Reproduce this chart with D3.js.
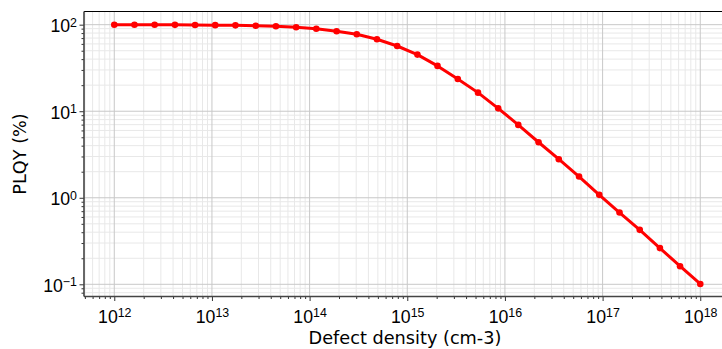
<!DOCTYPE html>
<html>
<head>
<meta charset="utf-8">
<script src="https://cdn.jsdelivr.net/npm/d3@7"></script>
<style>
  body { margin: 0; background: #fff; }
  svg { display: block; font-family: "DejaVu Sans", sans-serif; }
</style>
</head>
<body>
<svg id="chart" width="722" height="349"></svg>
<script>
// defect density (cm-3), 30 log-spaced points
const density = [1.00e12, 1.61e12, 2.59e12, 4.18e12, 6.72e12, 1.08e13, 1.74e13, 2.81e13, 4.52e13, 7.28e13,
                 1.17e14, 1.89e14, 3.04e14, 4.89e14, 7.88e14, 1.27e15, 2.04e15, 3.29e15, 5.30e15, 8.53e15,
                 1.37e16, 2.21e16, 3.56e16, 5.74e16, 9.24e16, 1.49e17, 2.40e17, 3.86e17, 6.21e17, 1.00e18];
// PLQY (%)
const plqy = [99.9, 99.8, 99.7, 99.5, 99.2, 98.8, 98.2, 97.3, 95.8, 93.3,
              89.9, 84.0, 77.5, 67.8, 56.7, 45.1, 33.4, 23.6, 16.4, 10.8,
              6.95, 4.38, 2.79, 1.76, 1.08, 0.675, 0.426, 0.262, 0.162, 0.101];
const xTickExp = [12, 13, 14, 15, 16, 17, 18];
const yTickExp = [-1, 0, 1, 2];

const margin = {top: 11.5, left: 84};
const width = 642, height = 285;
const fontSize = "17.7px", supSize = "12.4px";

const svg = d3.select("#chart");

const x = d3.scaleLog().domain([Math.pow(10, 11.69), Math.pow(10, 18.2635)]).range([0, width]);
const y = d3.scaleLog().domain([0.0723, 142]).range([height, 0]);

const g = svg.append("g").attr("transform", `translate(${margin.left},${margin.top})`);

// minor values
function minors(lo, hi) {
  const out = [];
  for (let e = lo; e <= hi; e++) for (let m = 2; m <= 9; m++) out.push(m * Math.pow(10, e));
  return out;
}
const xMinor = minors(11, 18).filter(v => v >= x.domain()[0] && v <= x.domain()[1]);
const yMinor = minors(-2, 2).filter(v => v >= y.domain()[0] && v <= y.domain()[1]);
const xMajor = xTickExp.map(e => Math.pow(10, e));
const yMajor = yTickExp.map(e => Math.pow(10, e));

// grid
g.append("g").selectAll("line").data(xMinor).join("line")
  .attr("x1", d => x(d)).attr("x2", d => x(d)).attr("y1", 0).attr("y2", height)
  .attr("stroke", "#e8e8e8").attr("stroke-width", 1);
g.append("g").selectAll("line").data(yMinor).join("line")
  .attr("y1", d => y(d)).attr("y2", d => y(d)).attr("x1", 0).attr("x2", width)
  .attr("stroke", "#e8e8e8").attr("stroke-width", 1);
g.append("g").selectAll("line").data(xMajor).join("line")
  .attr("x1", d => x(d)).attr("x2", d => x(d)).attr("y1", 0).attr("y2", height)
  .attr("stroke", "#c8c8c8").attr("stroke-width", 1);
g.append("g").selectAll("line").data(yMajor).join("line")
  .attr("y1", d => y(d)).attr("y2", d => y(d)).attr("x1", 0).attr("x2", width)
  .attr("stroke", "#c8c8c8").attr("stroke-width", 1);

// axes
function styleAxis(sel) {
  sel.select(".domain").remove();
  sel.selectAll(".tick line").attr("stroke", "#333").attr("stroke-width", 1);
}
const xMinorG = g.append("g").attr("transform", `translate(0,${height})`)
  .call(d3.axisBottom(x).tickValues(xMinor).tickSize(2.5).tickFormat(""));
styleAxis(xMinorG);
const xMajorG = g.append("g").attr("transform", `translate(0,${height})`)
  .call(d3.axisBottom(x).tickValues(xMajor).tickSize(4.5).tickFormat(""));
styleAxis(xMajorG);
const yMinorG = g.append("g").call(d3.axisLeft(y).tickValues(yMinor).tickSize(2.5).tickFormat(""));
styleAxis(yMinorG);
const yMajorG = g.append("g").call(d3.axisLeft(y).tickValues(yMajor).tickSize(4.5).tickFormat(""));
styleAxis(yMajorG);

// superscript tick labels
function powLabel(sel, e) {
  sel.append("tspan").text("10");
  sel.append("tspan").attr("dy", "-0.45em").attr("font-size", supSize)
    .text(e < 0 ? "\u2212" + (-e) : e);
}
xMajorG.selectAll(".tick").each(function(d) {
  const t = d3.select(this).append("text")
    .attr("y", 26).attr("text-anchor", "middle").attr("fill", "#000")
    .attr("font-size", fontSize);
  powLabel(t, Math.round(Math.log10(d)));
});
yMajorG.selectAll(".tick").each(function(d) {
  const t = d3.select(this).append("text")
    .attr("x", -7).attr("y", 7).attr("text-anchor", "end").attr("fill", "#000")
    .attr("font-size", fontSize);
  powLabel(t, Math.round(Math.log10(d)));
});

// spines
g.append("line").attr("x1", 0).attr("x2", width).attr("y1", 0).attr("y2", 0)
  .attr("stroke", "#000").attr("stroke-width", 1.2);
g.append("line").attr("x1", 0).attr("x2", 0).attr("y1", 0).attr("y2", height)
  .attr("stroke", "#444").attr("stroke-width", 1.6);
g.append("line").attr("x1", 0).attr("x2", width).attr("y1", height).attr("y2", height)
  .attr("stroke", "#444").attr("stroke-width", 1.6);

// data line
const pts = density.map((d, i) => ({x: d, y: plqy[i]}));
g.append("path").datum(pts)
  .attr("fill", "none").attr("stroke", "#ff0000").attr("stroke-width", 3)
  .attr("stroke-linejoin", "round")
  .attr("d", d3.line().x(d => x(d.x)).y(d => y(d.y)));
g.append("g").selectAll("circle").data(pts).join("circle")
  .attr("cx", d => x(d.x)).attr("cy", d => y(d.y)).attr("r", 3.3)
  .attr("fill", "#ff0000");

// axis labels
svg.append("text")
  .attr("x", margin.left + width / 2).attr("y", 344)
  .attr("text-anchor", "middle").attr("font-size", fontSize)
  .text("Defect density (cm-3)");
svg.append("text")
  .attr("transform", `translate(25.5,${margin.top + height / 2}) rotate(-90)`)
  .attr("text-anchor", "middle").attr("font-size", fontSize)
  .text("PLQY (%)");
</script>
</body>
</html>
